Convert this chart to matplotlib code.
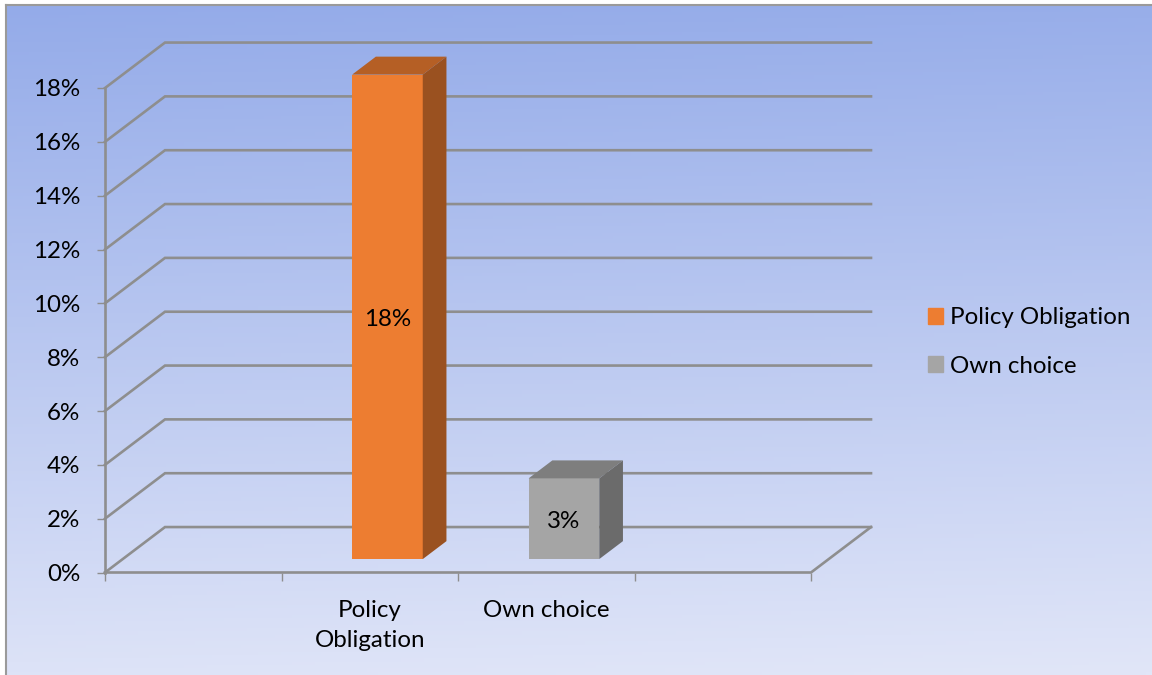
import numpy as np
import matplotlib
matplotlib.use('Agg')
import matplotlib.pyplot as plt
from matplotlib.patches import Patch

plt.rcParams['font.family'] = ['Lato', 'DejaVu Sans']

categories = ['Policy\nObligation', 'Own choice']
series_names = ['Policy Obligation', 'Own choice']
values = [18, 3]
value_ticks = [0, 2, 4, 6, 8, 10, 12, 14, 16, 18]

front_colors = ['#ED7D31', '#A5A5A5']
top_colors = ['#B55F25', '#7E7E7E']
side_colors = ['#9A5120', '#6B6B6B']
line_color = '#8E8E8E'

W, H = 1152, 675
# shift of the full floor depth, in category and percent units
depth_x = 60 / 176.5
depth_y = 45.5 / 26.95
bar_width = 0.4
bar_front = 0.295
bar_back = 0.69


def shear(x, y, depth):
    return x + depth * depth_x, y + depth * depth_y


def draw_box(ax, left, height, front_color, top_color, side_color):
    right = left + bar_width
    x0, y0 = shear(left, 0, bar_front)
    x1, y1 = shear(right, height, bar_front)
    bx0, by0 = shear(left, 0, bar_back)
    bx1, by1 = shear(right, height, bar_back)
    ax.bar(x0, y1 - y0, bar_width, bottom=y0, align='edge', color=front_color, zorder=5, clip_on=False)
    ax.fill([x0, x1, bx1, bx0 ], [y1, y1, by1, by1], color=top_color, lw=0, zorder=5, clip_on=False)
    ax.fill([x1, bx1, bx1, x1], [y0, by0, by1, y1], color=side_color, lw=0, zorder=5, clip_on=False)
    return (x0 + x1) / 2, (y0 + y1) / 2


fig = plt.figure(figsize=(W / 100, H / 100), dpi=100)

# background panel with the gradient
bg = fig.add_axes([6 / W, 0, 1 - 6 / W, 1 - 5 / H])
yy, xx = np.mgrid[0:1:200j, 0:1:200j]
t = np.clip(yy * 0.95 + 0.05 * xx, 0, 1)
top_rgb = np.array([0x94, 0xAB, 0xE9]) / 255
bottom_rgb = np.array([0xE1, 0xE6, 0xF8]) / 255
bg.imshow(top_rgb + (bottom_rgb - top_rgb) * t[..., None], aspect='auto', extent=[0, 1, 0, 1], origin='upper')
bg.set_xticks([])
bg.set_yticks([])
bg.spines[['right', 'bottom']].set_visible(False)
bg.spines[['left', 'top']].set_color('#9A9A9A')
bg.spines[['left', 'top']].set_linewidth(1.5)

ax = fig.add_axes([105 / W, 1 - 572.5 / H, 706 / W, (572.5 - 88) / H])
ax.patch.set_alpha(0)
ax.set_xlim(0, 4)
ax.set_ylim(0, 18)

# walls and floor
for v in value_ticks:
    bx, by = shear(0, v, 1)
    ex, ey = shear(4, v, 1)
    ax.plot([0, bx, ex], [v, by, ey], color=line_color, lw=1.9, zorder=2, clip_on=False, solid_joinstyle='miter')
ax.plot([0, 4, shear(4, 0, 1)[0]], [0, 0, shear(4, 0, 1)[1]], color=line_color, lw=1.9, zorder=3, clip_on=False)

ax.spines[['top', 'right', 'bottom']].set_visible(False)
ax.spines['left'].set_color(line_color)
ax.spines['left'].set_linewidth(1.9)

ax.set_yticks(value_ticks)
ax.set_yticklabels([str(v) + '%' for v in value_ticks], fontsize=17.4)
ax.tick_params(axis='y', length=6, width=1, color=line_color, pad=12)

ax.set_xticks([0, 1, 2, 3, 4])
ax.set_xticklabels([])
ax.tick_params(axis='x', which='major', length=6, width=1, color=line_color)
ax.set_xticks([1.5, 2.5], minor=True)
ax.set_xticklabels(categories, minor=True, fontsize=17.4, linespacing=1.56)
ax.tick_params(axis='x', which='minor', length=0, pad=19.5)

for i in range(len(values)):
    left = i + 1.5 - bar_width / 2
    cx, cy = draw_box(ax, left, values[i], front_colors[i], top_colors[i], side_colors[i])
    ax.annotate(str(values[i]) + '%', (cx, cy), xytext=(0, -2), textcoords='offset points',
                ha='center', va='center', fontsize=17.4, color='black', zorder=6)

handles = [Patch(color=c, label=n) for c, n in zip(front_colors, series_names)]
fig.legend(handles=handles, loc='center left', bbox_to_anchor=(906 / W, 1 - 342 / H), frameon=False,
           fontsize=17.4, handlelength=0.62, handleheight=0.62, handletextpad=0.3, labelspacing=1.12)

fig.savefig('out.png', dpi=100)
